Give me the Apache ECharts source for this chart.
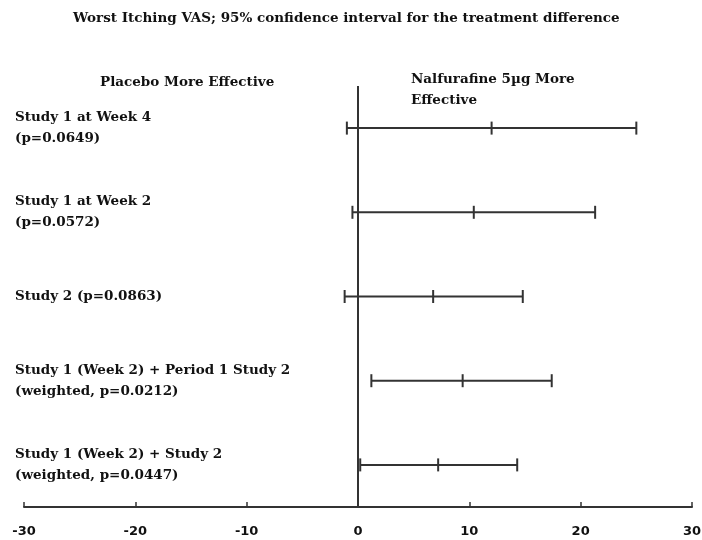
<!DOCTYPE html>
<html>
<head>
<meta charset="utf-8">
<script src="https://cdn.jsdelivr.net/npm/echarts@6/dist/echarts.min.js"></script>
<style>
  html, body { margin: 0; padding: 0; background: #fff; }
  #chart { width: 702px; height: 540px; }
</style>
</head>
<body>
<div id="chart"></div>
<script>
// 各研究的名称
const studies = [
  'Study 1 at Week 4\n(p=0.0649)',
  'Study 1 at Week 2\n(p=0.0572)',
  'Study 2 (p=0.0863)',
  'Study 1 (Week 2) + Period 1 Study 2\n(weighted, p=0.0212)',
  'Study 1 (Week 2) + Study 2\n(weighted, p=0.0447)'
]
// 95% 置信区间下限、点估计、上限
const lower = [-1.0, -0.5, -1.2, 1.2, 0.2]
const estimate = [12.0, 10.4, 6.75, 9.4, 7.2]
const upper = [25.0, 21.3, 14.8, 17.4, 14.3]
// x轴刻度
const xTicks = [-30, -20, -10, 0, 10, 20, 30]

const lineColor = '#333'
const serif = '"DejaVu Serif", serif'

const chart = echarts.init(document.getElementById('chart'))

const rows = studies.map((s, i) => [i, lower[i], estimate[i], upper[i]])

const option = {
  animation: false,
  title: [
    {
      text: 'Worst Itching VAS; 95% confidence interval for the treatment difference',
      left: 73,
      top: 11,
      padding: 0,
      textStyle: { fontFamily: serif, fontWeight: 'bold', fontSize: 13.5, color: '#111' }
    },
    {
      text: 'Placebo More Effective',
      left: 100,
      top: 75,
      padding: 0,
      textStyle: { fontFamily: serif, fontWeight: 'bold', fontSize: 13.5, color: '#111' }
    },
    {
      text: 'Nalfurafine 5µg More\nEffective',
      left: 411,
      top: 69,
      padding: 0,
      textStyle: { fontFamily: serif, fontWeight: 'bold', fontSize: 13.5, color: '#111', lineHeight: 21 }
    }
  ],
  grid: {
    left: 24,
    right: 10,
    top: 86,
    bottom: 33,
    outerBoundsMode: 'none'
  },
  xAxis: {
    type: 'value',
    min: xTicks[0],
    max: xTicks[xTicks.length - 1],
    interval: 10,
    splitLine: { show: false },
    axisLine: { show: true, onZero: false, lineStyle: { color: lineColor, width: 2 } },
    axisTick: { show: true, inside: true, length: 5, lineStyle: { color: lineColor, width: 1.5 } },
    axisLabel: {
      margin: 18,
      color: '#111',
      fontFamily: '"DejaVu Sans", sans-serif',
      fontWeight: 'bold',
      fontSize: 13
    }
  },
  yAxis: {
    type: 'category',
    data: studies,
    inverse: true,
    axisLine: { show: false },
    axisTick: { show: false },
    axisLabel: {
      align: 'left',
      margin: 9,
      color: '#111',
      fontFamily: serif,
      fontWeight: 'bold',
      fontSize: 13.5,
      lineHeight: 21
    }
  },
  series: [
    {
      type: 'custom',
      data: rows,
      encode: { x: [1, 2, 3], y: 0 },
      renderItem: (params, api) => {
        const y = api.value(0)
        const lo = api.coord([api.value(1), y])
        const mid = api.coord([api.value(2), y])
        const hi = api.coord([api.value(3), y])
        const h = 6.5
        const style = { stroke: lineColor, lineWidth: 2 }
        const cap = p => ({
          type: 'line',
          shape: { x1: p[0], y1: p[1] - h, x2: p[0], y2: p[1] + h },
          style
        })
        return {
          type: 'group',
          children: [
            { type: 'line', shape: { x1: lo[0], y1: lo[1], x2: hi[0], y2: hi[1] }, style },
            cap(lo),
            cap(mid),
            cap(hi)
          ]
        }
      },
      // x=0 处的竖线
      markLine: {
        silent: true,
        symbol: 'none',
        label: { show: false },
        lineStyle: { color: lineColor, width: 2, type: 'solid' },
        data: [{ xAxis: 0 }]
      }
    }
  ]
}

chart.setOption(option)
</script>
</body>
</html>
